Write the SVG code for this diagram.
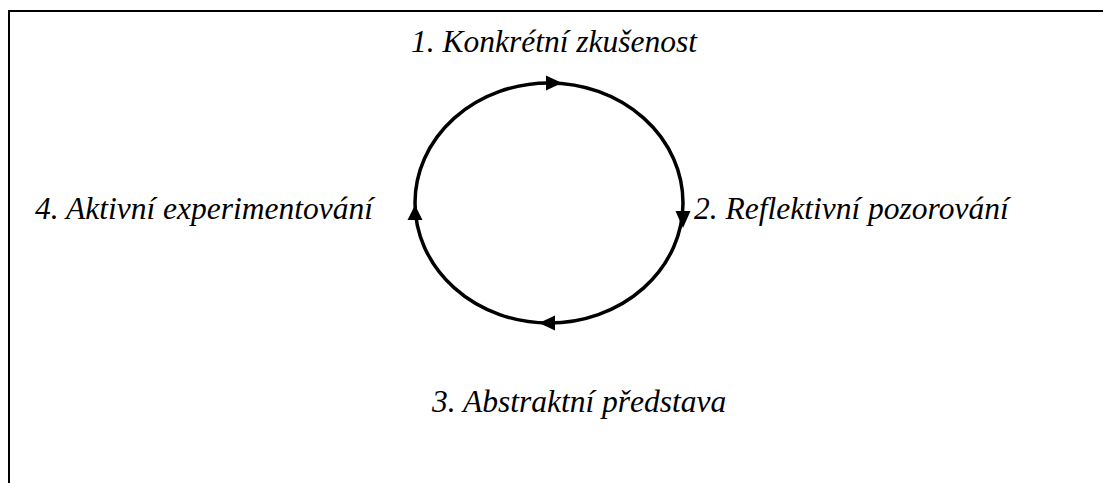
<svg xmlns="http://www.w3.org/2000/svg" width="1103" height="483" viewBox="0 0 1103 483">
<style>
.lbl{font-family:"Liberation Serif","Times New Roman",serif;font-style:italic;font-size:31.5px;fill:#000}
.frame{stroke:#000;stroke-width:2;fill:none}
.cyc{stroke:#000;stroke-width:3.5;fill:none}
.ah{fill:#000}
</style>
<rect width="1103" height="483" fill="#fff"/>
<g id="frame"><path class="frame" d="M9,483 V11 H1103"/></g>
<g id="connectors">
<ellipse class="cyc" cx="549" cy="203" rx="134" ry="120"/>
<polygon class="ah" points="562,83 546,75.5 546,90.5"/>
<polygon class="ah" points="683,228 675.5,211 690.5,211"/>
<polygon class="ah" points="539,323 555,315.5 555,330.5"/>
<polygon class="ah" points="415,205 407.5,220 422.5,220"/>
</g>
<g id="n1"><text class="lbl" x="411" y="52">1. Konkrétní zkušenost</text></g>
<g id="n2"><text class="lbl" x="694" y="219">2. Reflektivní pozorování</text></g>
<g id="n3"><text class="lbl" x="432" y="412">3. Abstraktní představa</text></g>
<g id="n4"><text class="lbl" x="35" y="219">4. Aktivní experimentování</text></g>
</svg>
